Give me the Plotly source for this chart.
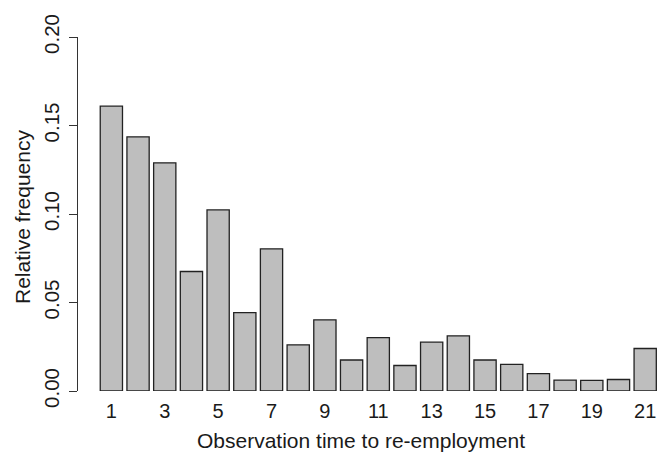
import plotly.graph_objects as go

categories = list(range(1, 22))
rel_freq = [0.1609, 0.1436, 0.1289, 0.0675, 0.1023, 0.0443, 0.0803, 0.0261,
            0.0402, 0.0175, 0.0302, 0.0144, 0.0276, 0.0312, 0.0175, 0.0150,
            0.0098, 0.0062, 0.0060, 0.0065, 0.0240]
x_tickvals = list(range(1, 22, 2))
x_ticktext = [str(v) for v in x_tickvals]
y_tickvals = [0.0, 0.05, 0.10, 0.15, 0.20]
y_ticktext = ["0.00", "0.05", "0.10", "0.15", "0.20"]
x_title = "Observation time to re-employment"
y_title = "Relative frequency"

FONT = "Liberation Sans, Arial, Helvetica, sans-serif"

fig = go.Figure(go.Bar(
    x=categories, y=rel_freq, width=1/1.2,
    marker=dict(color="#BEBEBE", line=dict(color="#222222", width=1.3)),
))

fig.update_layout(
    width=658, height=452,
    margin=dict(l=78, r=0, t=37, b=61),
    paper_bgcolor="white", plot_bgcolor="white",
    showlegend=False,
    font=dict(family=FONT, color="#1a1a1a", size=20),
    xaxis=dict(
        range=[-0.25, 21.48], tickmode="array", tickvals=x_tickvals, ticktext=x_ticktext,
        showline=False, showgrid=False, zeroline=False, ticks="",
        tickfont=dict(size=20), ticklabelstandoff=6,
    ),
    yaxis=dict(
        range=[0, 0.2], tickmode="array", tickvals=y_tickvals, ticktext=y_ticktext,
        showline=True, linecolor="#333333", linewidth=1.2,
        ticks="outside", ticklen=8, tickwidth=1.2, tickcolor="#333333",
        showgrid=False, zeroline=False, tickangle=-90,
        tickfont=dict(size=20.5), ticklabelstandoff=2,
    ),
    annotations=[
        dict(text=x_title, xref="paper", yref="paper", x=0.488, y=-0.141,
             xanchor="center", yanchor="middle", showarrow=False,
             font=dict(size=21)),
        dict(text=y_title, xref="paper", yref="paper", x=-0.0966, y=0.4915,
             xanchor="center", yanchor="middle", showarrow=False, textangle=-90,
             font=dict(size=21)),
    ],
)

fig.write_html("out.html")
